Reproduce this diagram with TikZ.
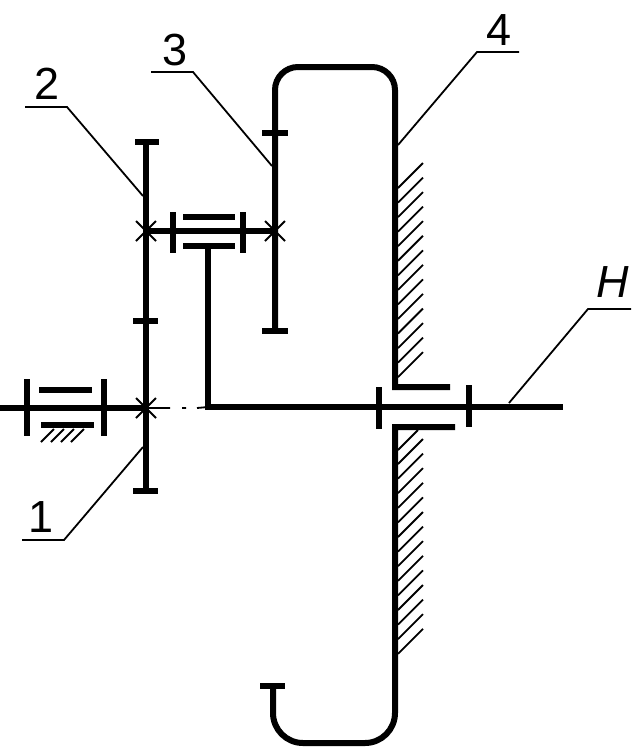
\documentclass[tikz,border=0pt]{standalone}
\usepackage{fontspec}
\setmainfont{Liberation Sans}
\usepackage{tikz}
\tikzstyle{link} = [draw, line width=6pt]
\tikzstyle{leader} = [draw, line width=1.8pt]
\tikzstyle{hatch} = [draw, line width=1.8pt]
\tikzstyle{crossing} = [draw, line width=1.8pt]
\tikzstyle{num} = [inner sep=0pt, font=\fontsize{45}{45}\selectfont]
\begin{document}
\begin{tikzpicture}[x=1pt, y=-1pt]
 \useasboundingbox (0,0) rectangle (637,748);
 % Place nodes
    \node[num] (n1) at (41,517) {1};
    \node[num] (n2) at (47,84) {2};
    \node[num] (n3) at (175,50) {3};
    \node[num] (n4) at (499,30) {4};
    \node[num] (nH) at (613,282) {\textit{H}};
    \coordinate (sun) at (146,408);
    \coordinate (planet) at (146,231);
    \coordinate (pin) at (275,231);
    \coordinate (carrier) at (208,407);

    % Gears 1, 2 and 3
    \path [link] (146,142) -- (146,491);
    \path [link] (135,142) -- (159,142);
    \path [link] (133,321) -- (158,321);
    \path [link] (133,491) -- (158,491);
    \path [link] (275,331) -- (275,90) arc[start angle=180, end angle=270, radius=23] -- (372,67)
      arc[start angle=270, end angle=360, radius=23] -- (395,387) -- (450,387);
    \path [link] (262,133) -- (288,133);
    \path [link] (262,331) -- (288,331);
    \path [link] (455,427) -- (395,427) -- (395,713)
      arc[start angle=0, end angle=90, radius=30] -- (303,743)
      arc[start angle=90, end angle=180, radius=30] -- (273,686);
    \path [link] (260,686) -- (285,686);

    % Shafts and bearings
    \path [link] (0,408) -- (sun);
    \path [link] (planet) -- (pin);
    \path [link] (carrier |- 0,245) -- (carrier) -- (563,407);
    \foreach \xa in {27,104} \path [link] (\xa,379) -- (\xa,436);
    \path [link] (39,390) -- (92,390);
    \path [link] (41,425) -- (94,425);
    \foreach \xa in {173,243} \path [link] (\xa,212) -- (\xa,253);
    \foreach \ya in {217,246} \path [link] (183,\ya) -- (235,\ya);
    \path [link] (379,387) -- (379,429);
    \path [link] (469,385) -- (469,427);

    % Crosses on the shafts
    \foreach \pt in {sun,planet,pin}
      \path [crossing] (\pt) +(-10,-10) -- +(10,10) +(-10,10) -- +(10,-10);

    % Axis line
    \path [leader] (sun) -- (170,408) (182,408) -- (186,408) (197,408) -- (carrier);

    % Hatching
    \foreach \k in {0,...,13} \path [hatch] (423,163+14.55*\k) -- ++(-25,25);
    \foreach \k in {0,...,13} \path [hatch] (423,439+14.6*\k) -- ++(-25,25);
    \path [hatch] (418,430) -- (398,450);
    \foreach \xa in {41,51,61,71} \path [hatch] (\xa,442) -- ++(13,-13);

    % Leaders
    \path [leader] (22,540) -- (64,540) -- (143,447);
    \path [leader] (25,107) -- (67,107) -- (143,196);
    \path [leader] (151,72) -- (193,72) -- (272,166);
    \path [leader] (519,52) -- (477,52) -- (398,145);
    \path [leader] (631,309) -- (588,309) -- (509,403);
\end{tikzpicture}
\end{document}
